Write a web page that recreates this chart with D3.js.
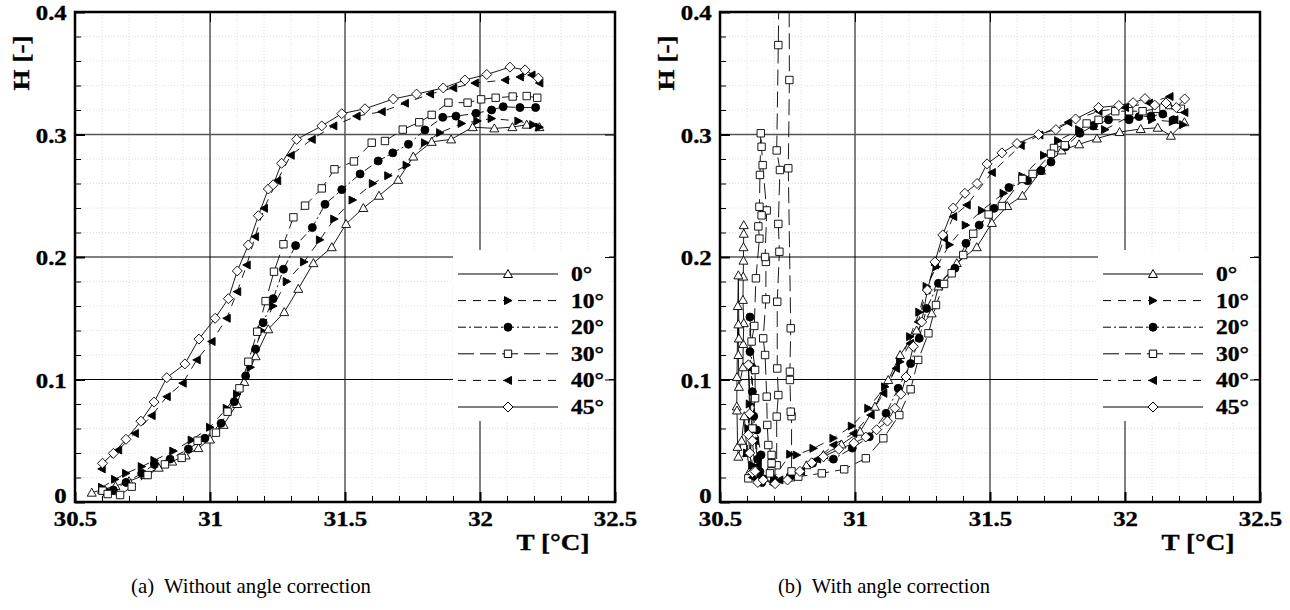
<!DOCTYPE html>
<html>
<head>
<meta charset="utf-8">
<script src="https://cdn.jsdelivr.net/npm/d3@7"></script>
<style>
body { margin: 0; background: #fff; }
svg { display: block; }
</style>
</head>
<body>
<svg width="1290" height="610"></svg>
<script>
var angles = ["0°", "10°", "20°", "30°", "40°", "45°"];
var xTicks = [30.5, 31, 31.5, 32, 32.5];
var yTicks = [0, 0.1, 0.2, 0.3, 0.4];
var xMinor = [30.6, 30.7, 30.8, 30.9, 31.1, 31.2, 31.3, 31.4, 31.6, 31.7, 31.8, 31.9, 32.1, 32.2, 32.3, 32.4];
var yMinor = [0.02, 0.04, 0.06, 0.08, 0.12, 0.14, 0.16, 0.18, 0.22, 0.24, 0.26, 0.28, 0.32, 0.34, 0.36, 0.38];
var captions = ["(a)  Without angle correction", "(b)  With angle correction"];

// (a) without angle correction, [T, H]
var a0 = [[30.562,0.0076],[30.6,0.010],[30.65,0.013],[30.7,0.017],[30.76,0.022],[30.81,0.028],[30.86,0.033],[30.91,0.038],[30.957,0.044],[31.0,0.051],[31.05,0.063],[31.1,0.080],[31.127,0.098],[31.169,0.119],[31.216,0.141],[31.275,0.155],[31.327,0.174],[31.383,0.195],[31.451,0.208],[31.504,0.227],[31.568,0.240],[31.626,0.250],[31.697,0.263],[31.753,0.282],[31.821,0.294],[31.893,0.296],[31.973,0.306],[32.053,0.305],[32.12,0.306],[32.173,0.308],[32.22,0.306]];
var a10 = [[30.6,0.012],[30.648,0.0185],[30.689,0.0234],[30.747,0.0289],[30.794,0.034],[30.864,0.0416],[30.932,0.0506],[31.0,0.061],[31.062,0.0765],[31.1,0.088],[31.15,0.11],[31.19,0.14],[31.234,0.160],[31.284,0.180],[31.348,0.196],[31.407,0.214],[31.46,0.231],[31.528,0.2465],[31.603,0.260],[31.66,0.2664],[31.728,0.275],[31.796,0.2933],[31.852,0.3015],[31.932,0.309],[31.99,0.311],[32.043,0.313],[32.142,0.311],[32.197,0.308],[32.22,0.306]];
var a20 = [[30.615,0.008],[30.642,0.0098],[30.689,0.016],[30.747,0.0234],[30.794,0.0307],[30.852,0.035],[30.92,0.0433],[30.981,0.052],[31.041,0.0642],[31.09,0.0819],[31.132,0.1029],[31.169,0.1249],[31.197,0.1464],[31.234,0.166],[31.272,0.190],[31.317,0.2093],[31.379,0.224],[31.426,0.243],[31.488,0.255],[31.556,0.2678],[31.623,0.2784],[31.677,0.285],[31.735,0.292],[31.796,0.3037],[31.862,0.314],[31.911,0.315],[31.985,0.3173],[32.043,0.320],[32.086,0.3227],[32.148,0.322],[32.206,0.322]];
var a30 = [[30.602,0.0092],[30.621,0.0065],[30.667,0.0057],[30.71,0.0125],[30.769,0.022],[30.833,0.0307],[30.895,0.036],[30.954,0.050],[31.022,0.0566],[31.065,0.0737],[31.109,0.0928],[31.142,0.1145],[31.175,0.139],[31.206,0.164],[31.237,0.188],[31.272,0.2104],[31.309,0.2324],[31.352,0.2419],[31.414,0.256],[31.461,0.2716],[31.533,0.278],[31.599,0.2933],[31.648,0.2947],[31.714,0.304],[31.775,0.310],[31.821,0.316],[31.883,0.326],[31.954,0.326],[32.004,0.3287],[32.058,0.330],[32.121,0.331],[32.173,0.3314],[32.212,0.330]];
var a40 = [[30.599,0.027],[30.66,0.0424],[30.722,0.056],[30.784,0.0705],[30.84,0.086],[30.899,0.097],[30.951,0.116],[31.006,0.131],[31.062,0.150],[31.101,0.1717],[31.136,0.1935],[31.167,0.2166],[31.2,0.2397],[31.249,0.2623],[31.299,0.283],[31.377,0.296],[31.457,0.307],[31.543,0.315],[31.636,0.3186],[31.722,0.3255],[31.815,0.333],[31.901,0.338],[31.981,0.342],[32.093,0.3445],[32.148,0.347],[32.191,0.3486],[32.22,0.342]];
var a45 = [[30.602,0.0316],[30.642,0.0397],[30.689,0.0512],[30.744,0.066],[30.793,0.0816],[30.84,0.1015],[30.907,0.1127],[30.959,0.133],[31.019,0.150],[31.068,0.166],[31.101,0.1886],[31.142,0.2098],[31.179,0.2337],[31.216,0.2555],[31.234,0.259],[31.265,0.2765],[31.321,0.296],[31.414,0.307],[31.488,0.317],[31.574,0.321],[31.679,0.329],[31.765,0.333],[31.864,0.338],[31.944,0.3445],[32.025,0.349],[32.111,0.355],[32.167,0.3527],[32.216,0.346]];

// (b) with angle correction, [T, H]
var b0 = [[30.588,0.226],[30.588,0.219],[30.587,0.208],[30.587,0.197],[30.586,0.184],[30.585,0.165],[30.588,0.146],[30.586,0.129],[30.585,0.11],[30.57,0.094],[30.568,0.12],[30.568,0.145],[30.57,0.1335],[30.568,0.185],[30.566,0.16],[30.563,0.102],[30.562,0.078],[30.563,0.0747],[30.565,0.045],[30.568,0.037],[30.58,0.05],[30.59,0.07],[30.6,0.04],[30.61,0.025],[30.64,0.018],[30.7,0.017],[30.76,0.02],[30.82,0.03],[30.883,0.0384],[30.95,0.047],[31.019,0.0574],[31.074,0.0778],[31.123,0.0996],[31.167,0.120],[31.228,0.140],[31.284,0.154],[31.309,0.176],[31.377,0.195],[31.451,0.208],[31.507,0.2278],[31.564,0.2416],[31.62,0.25],[31.689,0.2705],[31.765,0.287],[31.83,0.292],[31.896,0.2967],[31.98,0.302],[32.058,0.3045],[32.121,0.3055],[32.17,0.299],[32.22,0.31]];
var b10 = [[30.6,0.04],[30.61,0.08],[30.605,0.06],[30.62,0.03],[30.65,0.02],[30.7,0.02],[30.76,0.039],[30.784,0.0384],[30.846,0.0438],[30.92,0.052],[30.988,0.062],[31.049,0.0765],[31.111,0.094],[31.167,0.1145],[31.204,0.135],[31.238,0.155],[31.265,0.176],[31.302,0.192],[31.35,0.21],[31.41,0.226],[31.47,0.238],[31.55,0.252],[31.62,0.266],[31.7,0.283],[31.752,0.295],[31.83,0.304],[31.926,0.304],[32.015,0.3146],[32.1,0.312],[32.177,0.3105],[32.215,0.308]];
var b20 = [[30.66,0.019],[30.648,0.0247],[30.652,0.0384],[30.636,0.0588],[30.62,0.09],[30.611,0.1227],[30.611,0.151],[30.618,0.11],[30.625,0.07],[30.64,0.035],[30.655,0.016],[30.7,0.016],[30.76,0.021],[30.843,0.0316],[30.92,0.035],[30.99,0.044],[31.053,0.0533],[31.115,0.0724],[31.16,0.0928],[31.206,0.113],[31.238,0.1336],[31.265,0.158],[31.309,0.1785],[31.37,0.1908],[31.411,0.2112],[31.46,0.226],[31.515,0.2397],[31.57,0.2567],[31.639,0.2623],[31.689,0.2705],[31.726,0.2775],[31.78,0.29],[31.833,0.301],[31.883,0.307],[31.939,0.312],[32.015,0.312],[32.052,0.3146],[32.096,0.315],[32.14,0.3167],[32.18,0.312]];
var b30 = [[32.207,0.321],[32.115,0.321],[32.065,0.319],[32.015,0.319],[31.964,0.319],[31.902,0.312],[31.858,0.309],[31.777,0.2912],[31.737,0.289],[31.726,0.2843],[31.658,0.2678],[31.62,0.2637],[31.544,0.2416],[31.495,0.2347],[31.438,0.219],[31.401,0.2016],[31.358,0.1867],[31.33,0.178],[31.3,0.1608],[31.272,0.1377],[31.234,0.116],[31.206,0.092],[31.164,0.071],[31.105,0.052],[31.04,0.0357],[30.96,0.0267],[30.877,0.0234],[30.79,0.0207],[30.765,0.025],[30.765,0.07],[30.762,0.0737],[30.759,0.0996],[30.759,0.1064],[30.762,0.1418],[30.753,0.2724],[30.757,0.3445],[30.756,0.42],[30.718,0.42],[30.716,0.373],[30.71,0.287],[30.722,0.271],[30.716,0.227],[30.72,0.2043],[30.712,0.1635],[30.712,0.109],[30.716,0.0873],[30.71,0.0697],[30.71,0.03],[30.69,0.025],[30.685,0.0234],[30.691,0.0316],[30.691,0.0384],[30.679,0.0465],[30.675,0.0629],[30.673,0.086],[30.667,0.12],[30.66,0.1336],[30.67,0.1655],[30.67,0.196],[30.667,0.2],[30.673,0.238],[30.658,0.275],[30.654,0.29],[30.651,0.301],[30.648,0.267],[30.646,0.241],[30.654,0.234],[30.642,0.225],[30.646,0.215],[30.633,0.1826],[30.627,0.1437],[30.617,0.131],[30.63,0.1078],[30.63,0.0847],[30.62,0.06],[30.605,0.0193]];
var b40 = [[30.62,0.02],[30.64,0.03],[30.63,0.05],[30.65,0.016],[30.72,0.018],[30.8,0.025],[30.86,0.035],[30.92,0.0465],[30.994,0.056],[31.058,0.071],[31.105,0.0887],[31.152,0.109],[31.204,0.1295],[31.234,0.147],[31.265,0.173],[31.296,0.1935],[31.33,0.215],[31.364,0.233],[31.414,0.2424],[31.507,0.269],[31.614,0.291],[31.683,0.2996],[31.79,0.31],[31.902,0.319],[32.0,0.322],[32.089,0.3257],[32.165,0.331],[32.183,0.312],[32.22,0.318]];
var b45 = [[30.64,0.016],[30.62,0.024],[30.61,0.04],[30.605,0.055],[30.61,0.072],[30.605,0.112],[30.62,0.05],[30.63,0.025],[30.66,0.018],[30.704,0.015],[30.75,0.018],[30.796,0.025],[30.84,0.032],[30.883,0.037],[30.94,0.043],[30.996,0.048],[31.04,0.053],[31.08,0.059],[31.12,0.066],[31.148,0.0765],[31.17,0.088],[31.189,0.102],[31.216,0.127],[31.247,0.147],[31.268,0.173],[31.296,0.196],[31.325,0.218],[31.364,0.240],[31.407,0.252],[31.452,0.260],[31.489,0.276],[31.544,0.285],[31.6,0.2926],[31.68,0.300],[31.744,0.304],[31.817,0.3127],[31.902,0.322],[31.977,0.3237],[32.03,0.326],[32.074,0.3293],[32.11,0.324],[32.152,0.3257],[32.19,0.322],[32.221,0.329]];

var seriesA = [a0, a10, a20, a30, a40, a45];
var seriesB = [b0, b10, b20, b30, b40, b45];

var markerKinds = ["triUp", "triRight", "circle", "square", "triLeft", "diamond"];
var dashes = [null, "8,7", "8,3,2,3", "16,6", "8,7", null];

var serif = "'Liberation Serif', 'Times New Roman', serif";
var svg = d3.select("svg");

function markerPath(kind) {
    switch (kind) {
        case "triUp": return "M0,-4.5L4.5,3.5L-4.5,3.5Z";
        case "triRight": return "M-3.5,-4L4,0L-3.5,4Z";
        case "triLeft": return "M3.5,-4L-4,0L3.5,4Z";
        case "square": return "M-3.7,-3.7H3.7V3.7H-3.7Z";
        case "diamond": return "M0,-5L5,0L0,5L-5,0Z";
        default: return d3.symbol(d3.symbolCircle, 50)();
    }
}

function markerFill(kind) {
    return (kind == "triRight" || kind == "triLeft" || kind == "circle") ? "#000" : "#fff";
}

function boldText(sel, size) {
    return sel.attr("font-family", serif)
        .attr("font-weight", "bold")
        .attr("font-size", size)
        .attr("fill", "#000")
        .attr("stroke", "#000")
        .attr("stroke-width", 0.35);
}

function drawPanel(idx, left, data) {
    var top = 12, bottom = 502, w = 540;
    var x = d3.scaleLinear().domain([30.5, 32.5]).range([left, left + w]);
    var y = d3.scaleLinear().domain([0, 0.4]).range([bottom, top]);
    var g = svg.append("g");

    g.append("clipPath").attr("id", "clip" + idx)
        .append("rect")
        .attr("x", left).attr("y", top)
        .attr("width", w).attr("height", bottom - top);

    // minor dotted grid
    g.append("g").selectAll("line").data(xMinor).enter().append("line")
        .attr("x1", d => x(d)).attr("x2", d => x(d))
        .attr("y1", top).attr("y2", bottom)
        .attr("stroke", "#d6d6d6").attr("stroke-width", 0.8).attr("stroke-dasharray", "1,2");
    g.append("g").selectAll("line").data(yMinor).enter().append("line")
        .attr("x1", left).attr("x2", left + w)
        .attr("y1", d => y(d)).attr("y2", d => y(d))
        .attr("stroke", "#d6d6d6").attr("stroke-width", 0.8).attr("stroke-dasharray", "1,2");

    // major grid
    g.append("g").selectAll("line").data(xTicks.slice(1, -1)).enter().append("line")
        .attr("x1", d => x(d)).attr("x2", d => x(d))
        .attr("y1", top).attr("y2", bottom)
        .attr("stroke", "#000").attr("stroke-width", 1);
    g.append("g").selectAll("line").data(yTicks.slice(1, -1)).enter().append("line")
        .attr("x1", left).attr("x2", left + w)
        .attr("y1", d => y(d)).attr("y2", d => y(d))
        .attr("stroke", d => d == 0.3 ? "#555" : "#000").attr("stroke-width", d => d == 0.3 ? 1.6 : 1);

    // legend background hides the grid
    g.append("rect")
        .attr("x", left + 378).attr("y", 250)
        .attr("width", 156).attr("height", 171)
        .attr("fill", "#fff");

    // data
    var line = d3.line().x(d => x(d[0])).y(d => y(d[1]));
    var dataG = g.append("g").attr("clip-path", "url(#clip" + idx + ")");
    data.forEach(function(s, i) {
        dataG.append("path")
            .datum(s)
            .attr("d", line)
            .attr("fill", "none")
            .attr("stroke", "#000")
            .attr("stroke-width", 0.9)
            .attr("stroke-dasharray", dashes[i]);
    });
    data.forEach(function(s, i) {
        dataG.append("g").selectAll("path").data(s).enter().append("path")
            .attr("transform", d => "translate(" + x(d[0]) + "," + y(d[1]) + ")")
            .attr("d", markerPath(markerKinds[i]))
            .attr("fill", markerFill(markerKinds[i]))
            .attr("stroke", "#000")
            .attr("stroke-width", 0.9);
    });

    // axes with inward ticks
    var axB = g.append("g").attr("transform", "translate(0," + bottom + ")")
        .call(d3.axisBottom(x).tickValues(xTicks).tickSize(-10).tickPadding(9).tickFormat(d => String(d)));
    g.append("g").attr("transform", "translate(0," + bottom + ")")
        .call(d3.axisBottom(x).tickValues(xMinor).tickSize(-6).tickFormat(""));
    var axL = g.append("g").attr("transform", "translate(" + left + ",0)")
        .call(d3.axisLeft(y).tickValues(yTicks).tickSize(-10).tickPadding(7).tickFormat(d => String(d)));
    g.append("g").attr("transform", "translate(" + left + ",0)")
        .call(d3.axisLeft(y).tickValues(yMinor).tickSize(-6).tickFormat(""));
    g.append("g").attr("transform", "translate(" + (left + w) + ",0)")
        .call(d3.axisRight(y).tickValues(yTicks).tickSize(-10).tickFormat(""));
    g.append("g").attr("transform", "translate(0," + top + ")")
        .call(d3.axisTop(x).tickValues(xTicks).tickSize(-10).tickFormat(""));

    g.selectAll(".domain").remove();
    g.selectAll(".tick line").attr("stroke", "#000");
    axB.selectAll(".tick line").attr("stroke-width", 2);
    axL.selectAll(".tick line").attr("stroke-width", 2);

    [axB, axL].forEach(function(ax) {
        boldText(ax.selectAll("text"), 21).attr("transform", "scale(1.18,1)");
    });
    axL.selectAll("text").attr("dy", d => d == 0 ? "0.04em" : "0.36em");

    // frame
    g.append("rect")
        .attr("x", left).attr("y", top)
        .attr("width", w).attr("height", bottom - top)
        .attr("fill", "none").attr("stroke", "#000").attr("stroke-width", 2.5);

    // legend
    var leg = g.append("g");
    angles.forEach(function(a, i) {
        var ry = 274 + i * 26.6;
        leg.append("line")
            .attr("x1", left + 383).attr("x2", left + 483)
            .attr("y1", ry).attr("y2", ry)
            .attr("stroke", "#000").attr("stroke-width", 1)
            .attr("stroke-dasharray", dashes[i]);
        leg.append("path")
            .attr("transform", "translate(" + (left + 433) + "," + ry + ")")
            .attr("d", markerPath(markerKinds[i]))
            .attr("fill", markerFill(markerKinds[i]))
            .attr("stroke", "#000").attr("stroke-width", 1);
        boldText(leg.append("text"), 20)
            .attr("transform", "translate(" + (left + 496) + "," + ry + ") scale(1.18,1)")
            .attr("dy", "0.35em")
            .text(a);
    });

    // axis titles
    boldText(g.append("text"), 24)
        .attr("transform", "translate(" + (left - 54) + ",63) rotate(-90) scale(1.13,1)")
        .attr("text-anchor", "middle").attr("dy", "0.35em")
        .text("H [-]");
    boldText(g.append("text"), 24)
        .attr("transform", "translate(" + (left + 478) + ",550) scale(1.13,1)")
        .attr("text-anchor", "middle")
        .text("T [°C]");
}

function drawCaption(text, cx, len) {
    svg.append("text")
        .attr("x", cx - len / 2).attr("y", 593)
        .attr("textLength", len).attr("lengthAdjust", "spacingAndGlyphs")
        .attr("font-family", serif).attr("font-size", 22)
        .attr("xml:space", "preserve")
        .text(text);
}

drawPanel(0, 75, seriesA);
drawPanel(1, 720, seriesB);
drawCaption(captions[0], 251, 240);
drawCaption(captions[1], 884, 212);
</script>
</body>
</html>
